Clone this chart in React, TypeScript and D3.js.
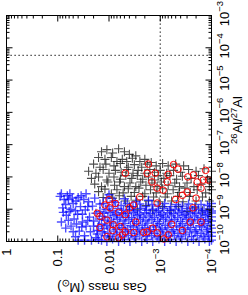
import React, { useEffect, useRef } from 'react';
import * as d3 from 'd3';

// [gas mass (Msun), 26Al/27Al]
const blackPoints: [number, number][] = [
  [1.4e-2, 6e-8], [1.1e-2, 7e-8], [8.5e-3, 5.5e-8], [6.5e-3, 7.5e-8], [5e-3, 6e-8], [4e-3, 5e-8], [3e-3, 4.5e-8],
  [1.6e-2, 4e-8], [1.2e-2, 3.5e-8], [9e-3, 4e-8], [7e-3, 3e-8], [5.5e-3, 3.5e-8], [4.5e-3, 3e-8], [3.5e-3, 3.8e-8],
  [2.5e-3, 3e-8], [2e-3, 3.5e-8], [1.5e-3, 2.8e-8],
  [2e-2, 2.5e-8], [1.5e-2, 2e-8], [1.15e-2, 2.5e-8], [8e-3, 2.2e-8], [6e-3, 2.6e-8], [4.2e-3, 2e-8], [3.2e-3, 2.4e-8],
  [2.3e-3, 2e-8], [1.8e-3, 2.5e-8], [1.2e-3, 2.2e-8], [9e-4, 2.6e-8], [7e-4, 2.2e-8], [5e-4, 2.5e-8], [3.5e-4, 2.2e-8],
  [2.5e-2, 1.5e-8], [1.8e-2, 1.3e-8], [1.3e-2, 1.7e-8], [1e-2, 1.3e-8], [7.5e-3, 1.6e-8], [5.8e-3, 1.4e-8], [4.5e-3, 1.7e-8],
  [3.4e-3, 1.3e-8], [2.7e-3, 1.6e-8], [2e-3, 1.3e-8], [1.6e-3, 1.7e-8], [1.3e-3, 1.4e-8], [1e-3, 1.6e-8], [7.5e-4, 1.3e-8],
  [5.5e-4, 1.6e-8], [4e-4, 1.4e-8], [2.8e-4, 1.7e-8], [2e-4, 1.5e-8], [1.4e-4, 1.8e-8], [1e-4, 1.5e-8],
  [2.2e-2, 9e-9], [1.6e-2, 1e-8], [1.1e-2, 8e-9], [8e-3, 1e-8], [6e-3, 8.5e-9], [4.7e-3, 1.1e-8], [3.6e-3, 9e-9],
  [2.8e-3, 1.1e-8], [2.2e-3, 8.5e-9], [1.7e-3, 1e-8], [1.3e-3, 8e-9], [1.1e-3, 1.1e-8], [8.5e-4, 9e-9], [6.5e-4, 1.1e-8],
  [4.8e-4, 8.5e-9], [3.7e-4, 1.05e-8], [2.5e-4, 9e-9], [1.8e-4, 1.1e-8], [1.2e-4, 8.5e-9],
  [1.9e-2, 6e-9], [1.4e-2, 5e-9], [1.05e-2, 7e-9], [7.8e-3, 5.5e-9], [6.2e-3, 7e-9], [5e-3, 5e-9], [3.9e-3, 6.5e-9],
  [3e-3, 5e-9], [2.4e-3, 7e-9], [1.9e-3, 5.5e-9], [1.45e-3, 6.5e-9], [1.15e-3, 5e-9], [9.5e-4, 7e-9], [7e-4, 5.5e-9],
  [5.2e-4, 6.5e-9], [4.2e-4, 5e-9], [3e-4, 6.5e-9], [2.2e-4, 5e-9], [1.6e-4, 6e-9], [1.1e-4, 5e-9], [1e-4, 7e-9],
  [1.6e-2, 3.5e-9], [1.2e-2, 4.2e-9], [9e-3, 3e-9], [7e-3, 4e-9], [5.3e-3, 3.2e-9], [4.2e-3, 4.3e-9], [3.2e-3, 3.3e-9],
  [2.6e-3, 4.5e-9], [2e-3, 3e-9], [1.55e-3, 4e-9], [1.2e-3, 3.2e-9], [9e-4, 4.3e-9], [7.3e-4, 3e-9], [5.6e-4, 4e-9],
  [4.3e-4, 3.3e-9], [3.3e-4, 4.5e-9], [2.6e-4, 3.3e-9], [1.9e-4, 4e-9], [1.3e-4, 3.2e-9], [1e-4, 4e-9],
  [1.3e-2, 2.3e-9], [8.5e-3, 2.2e-9], [6.3e-3, 2.6e-9], [4.8e-3, 1.8e-9], [3.7e-3, 2.5e-9], [2.9e-3, 1.9e-9], [2.2e-3, 2.5e-9],
  [1.7e-3, 1.8e-9], [1.35e-3, 2.4e-9], [1.05e-3, 1.7e-9], [8e-4, 2.4e-9], [6e-4, 1.8e-9], [4.6e-4, 2.5e-9], [3.6e-4, 1.7e-9],
  [2.7e-4, 2.5e-9], [2e-4, 1.8e-9], [1.5e-4, 2.4e-9], [1.1e-4, 1.8e-9],
  [4e-3, 1.2e-9], [2.8e-3, 1e-9], [1.9e-3, 1.3e-9], [1.4e-3, 9e-10], [9e-4, 1.2e-9], [6.2e-4, 9e-10], [4.4e-4, 1.2e-9],
  [3e-4, 8.5e-10], [2.1e-4, 1.1e-9], [1.5e-4, 9e-10], [1e-4, 1.2e-9],
];

const redPoints: [number, number][] = [
  [1.7e-3, 2.5e-8], [5.5e-4, 2.4e-8], [4.5e-4, 1.75e-8], [1.8e-3, 1.3e-8], [1.25e-3, 1.3e-8], [4.8e-3, 1.3e-8],
  [2.25e-4, 1.15e-8], [1.45e-4, 8e-9], [1.9e-4, 7e-9], [2.9e-4, 1e-8], [1.15e-4, 8e-9], [1.6e-4, 4.5e-9],
  [7.3e-4, 7e-9], [1.45e-3, 7e-9], [1.15e-3, 4.5e-9], [8.8e-4, 3.9e-9], [3e-4, 3.4e-9], [3.7e-4, 2.7e-9],
  [2.5e-3, 2.4e-9], [3.3e-3, 1.35e-9], [1.15e-3, 1.55e-9], [2.3e-4, 1.1e-9], [5e-4, 2e-9], [7e-4, 1.2e-8],
  [1.3e-4, 1.6e-8], [2e-4, 2.2e-9],
  [1e-2, 2e-9], [9.5e-3, 1.1e-9], [7.5e-3, 1.5e-9], [1.7e-2, 7.5e-10], [1.5e-2, 6e-10], [6.5e-3, 8e-10],
  [4e-3, 1.1e-9], [1.1e-2, 4.6e-10], [8.3e-3, 3.3e-10], [6e-3, 2.9e-10], [8.5e-3, 2.2e-10], [4.8e-3, 2e-10],
  [3.3e-3, 1.9e-10], [2.1e-3, 1.9e-10], [1.8e-3, 2e-10], [1.4e-3, 2.6e-10], [1.15e-3, 1.85e-10], [7e-4, 1.6e-10],
  [6e-4, 3.4e-10], [3.7e-4, 2.2e-10], [2.6e-4, 4e-10], [1.6e-4, 4e-10], [1.1e-2, 1.4e-10], [6.5e-3, 1.3e-10],
  [8.5e-4, 1.2e-10], [1.2e-2, 1.35e-9], [4.8e-3, 6.8e-10], [3e-3, 4e-10], [1.5e-2, 2.7e-10], [5.5e-3, 1.6e-10],
];

const bluePoints: [number, number][] = [
  // low-ratio tail at larger masses
  [0.09, 2.5e-9], [0.075, 2e-9], [0.08, 1.1e-9], [0.068, 6.5e-10], [0.085, 4e-10], [0.07, 2.6e-10],
  [0.058, 3e-9], [0.05, 1.5e-9], [0.06, 8.5e-10], [0.048, 5e-10], [0.055, 3e-10], [0.04, 2.3e-9],
  [0.036, 1.2e-9], [0.041, 7e-10], [0.033, 4e-10], [0.038, 2.1e-10], [0.028, 3e-9], [0.025, 1.7e-9],
  [0.029, 9.5e-10], [0.024, 5.7e-10], [0.028, 3e-10], [0.03, 1.5e-10], [0.019, 2.2e-9], [0.021, 1.25e-9],
  [0.018, 7.5e-10], [0.02, 4.3e-10], [0.017, 2.2e-10], [0.022, 1.1e-10], [0.045, 1.4e-10], [0.062, 2e-9],
  [0.031, 2e-9], [0.015, 1.45e-9], [0.04, 1.1e-10],
  [0.085, 3e-9], [0.065, 2.6e-9], [0.052, 2.2e-9], [0.044, 1.8e-9], [0.035, 2.6e-9], [0.07, 1.4e-9],
  [0.056, 1e-9], [0.045, 9e-10], [0.033, 7e-10], [0.026, 1.2e-9], [0.078, 8e-10], [0.062, 4.5e-10],
  [0.043, 3.5e-10], [0.026, 4.5e-10], [0.02, 3e-10], [0.034, 2.8e-10], [0.05, 2e-10], [0.023, 2e-10],
  [0.03, 1.1e-10], [0.018, 1.3e-10],
  [1.6e-2, 3e-10], [1.7e-2, 1.7e-10], [1.5e-2, 8.5e-10], [1.55e-2, 5e-10], [1.6e-2, 1.15e-10],
  [1.1e-2, 2.2e-9], [8e-3, 1.8e-9], [5e-3, 2.1e-9], [3e-3, 1.7e-9], [1.7e-3, 1.9e-9], [1e-2, 2.8e-9],
  // dense part
  [1.3e-2, 1.5e-9], [1e-2, 1.25e-9], [7.5e-3, 1.6e-9], [5.8e-3, 1.3e-9], [4.4e-3, 1.5e-9], [3.4e-3, 1.2e-9],
  [2.5e-3, 1.45e-9], [1.9e-3, 1.2e-9], [1.45e-3, 1.4e-9], [1.1e-3, 1.25e-9], [8.2e-4, 1.5e-9], [6.3e-4, 1.2e-9],
  [4.8e-4, 1.4e-9], [3.7e-4, 1.25e-9], [2.8e-4, 1.45e-9], [2.1e-4, 1.2e-9], [1.6e-4, 1.4e-9], [1.2e-4, 1.3e-9], [1e-4, 1.5e-9],
  [1.15e-2, 1e-9], [8.7e-3, 9e-10], [6.7e-3, 1.05e-9], [5.2e-3, 9.2e-10], [4e-3, 1e-9], [3.1e-3, 9e-10],
  [2.4e-3, 1.05e-9], [1.85e-3, 9.3e-10], [1.4e-3, 1e-9], [1.08e-3, 9e-10], [8.5e-4, 1.05e-9], [6.6e-4, 9.2e-10],
  [5.1e-4, 1e-9], [3.9e-4, 9e-10], [3e-4, 1.05e-9], [2.35e-4, 9.3e-10], [1.8e-4, 1e-9], [1.4e-4, 9e-10], [1.1e-4, 1.02e-9], [1e-4, 8.8e-10],
  [1.25e-2, 7.5e-10], [9.5e-3, 8e-10], [7.2e-3, 7e-10], [5.6e-3, 7.8e-10], [4.3e-3, 7.2e-10], [3.3e-3, 8e-10],
  [2.55e-3, 7e-10], [2e-3, 7.8e-10], [1.55e-3, 7.2e-10], [1.2e-3, 8e-10], [9.3e-4, 7e-10], [7.2e-4, 7.8e-10],
  [5.5e-4, 7.2e-10], [4.3e-4, 8e-10], [3.3e-4, 7e-10], [2.6e-4, 7.8e-10], [2e-4, 7.2e-10], [1.55e-4, 8e-10], [1.2e-4, 7e-10], [1e-4, 7.6e-10],
  [1.35e-2, 6e-10], [1.05e-2, 5.5e-10], [8e-3, 6.3e-10], [6.1e-3, 5.6e-10], [4.7e-3, 6.2e-10], [3.6e-3, 5.5e-10],
  [2.8e-3, 6.3e-10], [2.15e-3, 5.6e-10], [1.65e-3, 6.2e-10], [1.3e-3, 5.5e-10], [1e-3, 6.3e-10], [7.8e-4, 5.6e-10],
  [6e-4, 6.2e-10], [4.6e-4, 5.5e-10], [3.6e-4, 6.3e-10], [2.8e-4, 5.6e-10], [2.15e-4, 6.2e-10], [1.65e-4, 5.5e-10], [1.3e-4, 6.3e-10], [1e-4, 5.8e-10],
  [1.2e-2, 4.6e-10], [9e-3, 4.2e-10], [6.9e-3, 4.9e-10], [5.3e-3, 4.3e-10], [4.1e-3, 4.8e-10], [3.2e-3, 4.2e-10],
  [2.45e-3, 4.9e-10], [1.9e-3, 4.3e-10], [1.45e-3, 4.8e-10], [1.12e-3, 4.2e-10], [8.7e-4, 4.9e-10], [6.7e-4, 4.3e-10],
  [5.2e-4, 4.8e-10], [4e-4, 4.2e-10], [3.1e-4, 4.9e-10], [2.4e-4, 4.3e-10], [1.85e-4, 4.8e-10], [1.45e-4, 4.2e-10], [1.15e-4, 4.7e-10], [1e-4, 4.3e-10],
  [1.4e-2, 3.5e-10], [1.1e-2, 3.2e-10], [8.3e-3, 3.7e-10], [6.4e-3, 3.2e-10], [4.9e-3, 3.6e-10], [3.8e-3, 3.1e-10],
  [2.9e-3, 3.6e-10], [2.25e-3, 3.2e-10], [1.75e-3, 3.7e-10], [1.35e-3, 3.1e-10], [1.04e-3, 3.6e-10], [8e-4, 3.2e-10],
  [6.2e-4, 3.7e-10], [4.8e-4, 3.1e-10], [3.7e-4, 3.6e-10], [2.9e-4, 3.2e-10], [2.25e-4, 3.7e-10], [1.7e-4, 3.1e-10], [1.35e-4, 3.6e-10], [1.05e-4, 3.2e-10],
  [1.25e-2, 2.5e-10], [9.6e-3, 2.8e-10], [7.3e-3, 2.4e-10], [5.6e-3, 2.7e-10], [4.3e-3, 2.3e-10], [3.35e-3, 2.8e-10],
  [2.6e-3, 2.4e-10], [2e-3, 2.7e-10], [1.55e-3, 2.3e-10], [1.2e-3, 2.8e-10], [9.2e-4, 2.4e-10], [7.1e-4, 2.7e-10],
  [5.5e-4, 2.3e-10], [4.2e-4, 2.8e-10], [3.3e-4, 2.4e-10], [2.55e-4, 2.7e-10], [2e-4, 2.3e-10], [1.55e-4, 2.8e-10], [1.2e-4, 2.4e-10], [1e-4, 2.6e-10],
  [1.35e-2, 2e-10], [1.05e-2, 1.8e-10], [8e-3, 2.1e-10], [6.1e-3, 1.85e-10], [4.7e-3, 2.05e-10], [3.6e-3, 1.8e-10],
  [2.8e-3, 2.1e-10], [2.15e-3, 1.85e-10], [1.65e-3, 2.05e-10], [1.28e-3, 1.8e-10], [9.8e-4, 2.1e-10], [7.6e-4, 1.85e-10],
  [5.9e-4, 2.05e-10], [4.5e-4, 1.8e-10], [3.5e-4, 2.1e-10], [2.7e-4, 1.85e-10], [2.1e-4, 2.05e-10], [1.6e-4, 1.8e-10], [1.25e-4, 2.1e-10], [1e-4, 1.9e-10],
  [1.2e-2, 1.5e-10], [9.2e-3, 1.4e-10], [7e-3, 1.6e-10], [5.4e-3, 1.4e-10], [4.2e-3, 1.55e-10], [3.2e-3, 1.4e-10],
  [2.5e-3, 1.6e-10], [1.9e-3, 1.42e-10], [1.48e-3, 1.55e-10], [1.15e-3, 1.4e-10], [8.8e-4, 1.6e-10], [6.8e-4, 1.42e-10],
  [5.3e-4, 1.55e-10], [4.1e-4, 1.4e-10], [3.2e-4, 1.6e-10], [2.45e-4, 1.42e-10], [1.9e-4, 1.55e-10], [1.45e-4, 1.4e-10], [1.15e-4, 1.6e-10], [1e-4, 1.45e-10],
  [1.4e-2, 1.1e-10], [1.1e-2, 1e-10], [8.5e-3, 1.2e-10], [6.5e-3, 1e-10], [5e-3, 1.15e-10], [3.9e-3, 1e-10],
  [3e-3, 1.2e-10], [2.3e-3, 1e-10], [1.8e-3, 1.15e-10], [1.4e-3, 1e-10], [1.06e-3, 1.2e-10], [8.2e-4, 1e-10],
  [6.4e-4, 1.15e-10], [4.9e-4, 1e-10], [3.8e-4, 1.2e-10], [2.9e-4, 1e-10], [2.25e-4, 1.15e-10], [1.75e-4, 1e-10], [1.35e-4, 1.2e-10], [1.1e-4, 1e-10], [1e-4, 1.1e-10],
];

const massTicks = [1, 0.1, 0.01, 1e-3, 1e-4];
const massLabels = ['1', '0.1', '0.01', '10^-3', '10^-4'];
const ratioTicks = [1e-3, 1e-4, 1e-5, 1e-6, 1e-7, 1e-8, 1e-9, 1e-10];
const ratioLabels = ['10^-3', '10^-4', '10^-5', '10^-6', '10^-7', '10^-8', '10^-9', '10^-10'];
const canonicalRatio = 5.8e-5;
const massCut = 1e-3;

const FONT = '"Liberation Sans", Arial, Helvetica, sans-serif';

// writes "10^-3" as 10 with a raised exponent
function powerText(sel: any, label: string) {
  const [base, exp] = label.split('^');
  sel.append('tspan').text(base);
  if (exp) {
    sel.append('tspan').attr('dy', -5.5).attr('font-size', 9.5).text(exp.replace('-', '\u2212'));
  }
}

const ScatterPlot = () => {
  const svgRef = useRef<SVGSVGElement>(null);

  useEffect(() => {
    const width = 248;
    const height = 295;
    const margin = { top: 15.5, right: 36.5, bottom: 53.5, left: 6.5 };
    const x0 = margin.left;
    const x1 = width - margin.right;
    const y0 = margin.top;
    const y1 = height - margin.bottom;

    const svg = d3.select(svgRef.current)
      .attr('width', width)
      .attr('height', height)
      .style('position', 'absolute')
      .style('left', '0px')
      .style('top', '0px')
      .style('background', '#fff');
    svg.selectAll('*').remove();

    const xScale = d3.scaleLog().domain([1, 1e-4]).range([x0, x1]);
    const yScale = d3.scaleLog().domain([1e-3, 1e-10]).range([y0, y1]);

    // dotted guides
    svg.append('line')
      .attr('x1', xScale(massCut)).attr('x2', xScale(massCut))
      .attr('y1', y0).attr('y2', y1)
      .attr('stroke', '#222').attr('stroke-width', 1.2).attr('stroke-dasharray', '1.2 2.8');
    svg.append('line')
      .attr('x1', x0).attr('x2', x1)
      .attr('y1', yScale(canonicalRatio)).attr('y2', yScale(canonicalRatio))
      .attr('stroke', '#222').attr('stroke-width', 1.2).attr('stroke-dasharray', '1.2 2.8');

    const plus = 'M-4.5,0H4.5M0,-4.5V4.5';

    svg.append('g')
      .selectAll('path')
      .data(blackPoints)
      .enter().append('path')
      .attr('d', plus)
      .attr('transform', d => `translate(${xScale(d[0])},${yScale(d[1])})`)
      .attr('stroke', '#000')
      .attr('stroke-opacity', 0.7)
      .attr('stroke-width', 1.1)
      .attr('fill', 'none');

    svg.append('g')
      .selectAll('path')
      .data(bluePoints)
      .enter().append('path')
      .attr('d', plus)
      .attr('transform', d => `translate(${xScale(d[0])},${yScale(d[1])})`)
      .attr('stroke', '#0000ff')
      .attr('stroke-opacity', 0.7)
      .attr('stroke-width', 1.4)
      .attr('fill', 'none');

    svg.append('g')
      .selectAll('circle')
      .data(redPoints)
      .enter().append('circle')
      .attr('cx', d => xScale(d[0]))
      .attr('cy', d => yScale(d[1]))
      .attr('r', 3.3)
      .attr('stroke', '#ff0000')
      .attr('stroke-width', 1)
      .attr('fill', 'none');

    // frame
    svg.append('rect')
      .attr('x', x0).attr('y', y0)
      .attr('width', x1 - x0).attr('height', y1 - y0)
      .attr('fill', 'none').attr('stroke', '#000').attr('stroke-width', 1);

    const isMajor = (v: number) => Math.abs(Math.log10(v) - Math.round(Math.log10(v))) < 1e-9;
    const ticks = svg.append('g').attr('stroke', '#000').attr('stroke-width', 1);

    xScale.ticks().forEach(v => {
      const px = xScale(v);
      const len = isMajor(v) ? 6 : 3;
      ticks.append('line').attr('x1', px).attr('x2', px).attr('y1', y0).attr('y2', y0 + len);
      ticks.append('line').attr('x1', px).attr('x2', px).attr('y1', y1).attr('y2', y1 - len);
    });
    yScale.ticks().forEach(v => {
      const py = yScale(v);
      const len = isMajor(v) ? 6 : 3;
      ticks.append('line').attr('x1', x0).attr('x2', x0 + len).attr('y1', py).attr('y2', py);
      ticks.append('line').attr('x1', x1).attr('x2', x1 - len).attr('y1', py).attr('y2', py);
    });

    // gas mass labels, turned to read upwards
    massTicks.forEach((v, i) => {
      const t = svg.append('text')
        .attr('transform', `translate(${xScale(v)},${y1 + 7}) rotate(-90)`)
        .attr('text-anchor', 'end')
        .attr('dy', '0.35em')
        .attr('font-family', FONT)
        .attr('font-size', 13)
        .attr('fill', '#000');
      powerText(t, massLabels[i]);
    });

    // ratio labels on the right
    ratioTicks.forEach((v, i) => {
      const t = svg.append('text')
        .attr('transform', `translate(${x1 + 12.5},${yScale(v) - 2}) rotate(-90)`)
        .attr('text-anchor', 'middle')
        .attr('dy', '0.35em')
        .attr('font-family', FONT)
        .attr('font-size', 13)
        .attr('fill', '#000');
      powerText(t, ratioLabels[i]);
    });

    // right axis title 26Al/27Al
    const rt = svg.append('text')
      .attr('transform', `translate(241.5,120) rotate(-90)`)
      .attr('text-anchor', 'middle')
      .attr('dy', '0.35em')
      .attr('font-family', FONT)
      .attr('font-size', 13)
      .attr('fill', '#000');
    rt.append('tspan').attr('font-size', 9.5).attr('dy', -5).text('26');
    rt.append('tspan').attr('dy', 5).text('Al/');
    rt.append('tspan').attr('font-size', 9.5).attr('dy', -5).text('27');
    rt.append('tspan').attr('dy', 5).text('Al');

    // bottom title, drawn upside down as in the figure
    const bt = svg.append('text')
      .attr('transform', `translate(102,288) rotate(180)`)
      .attr('text-anchor', 'middle')
      .attr('dy', '0.35em')
      .attr('font-family', FONT)
      .attr('font-size', 13)
      .attr('fill', '#000');
    bt.append('tspan').text('Gas mass (M');
    bt.append('tspan').attr('font-size', 9.5).attr('dy', 3).text('\u2299');
    bt.append('tspan').attr('dy', -3).text(')');
  }, []);

  return <svg ref={svgRef}></svg>;
};

export default function App() {
  return <ScatterPlot />;
}
